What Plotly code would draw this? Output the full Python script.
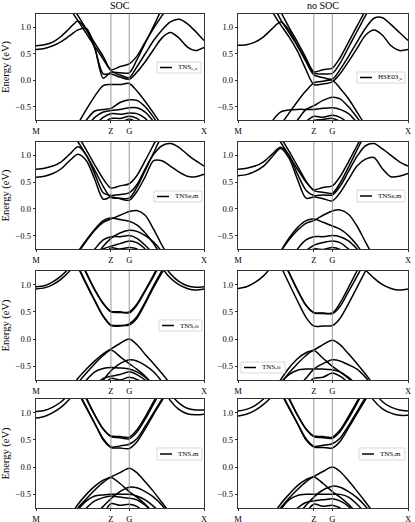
import plotly.graph_objects as go
from plotly.subplots import make_subplots

# ---------------- data ----------------
K = [0.00, 0.05, 0.10, 0.15, 0.20, 0.25, 0.30, 0.35, 0.40, 0.446, 0.50, 0.555,
     0.60, 0.65, 0.70, 0.75, 0.80, 0.85, 0.90, 0.95, 1.00]
KPOINT_POS = [0.0, 0.446, 0.555, 1.0]
KPOINT_LABELS = ["M", "Z", "G", "X"]
E_TICKS = [-0.5, 0.0, 0.5, 1.0]
E_TICK_LABELS = ["\u22120.5", "0.0", "0.5", "1.0"]
E_RANGE = [-0.75, 1.25]
COLUMN_TITLES = ["SOC", "no SOC"]
Y_TITLE = "Energy (eV)"
LEGEND_LABELS = ["TNS<sub>e,o</sub>", "HSE03<sub>,o</sub>", "TNSe,m", "TNSe,m",
                 "TNS,o", "TNS,o", "TNS,m", "TNS,m"]

SOC_TNSEO_BANDS = [
    [0.58, 0.60, 0.65, 0.73, 0.84, 0.95, 0.98, 0.62, 0.04, 0.15, 0.14, 0.14, 0.38, 0.70, 1.02, 1.35, 1.60, 1.80, 1.90, 2.00, 2.00],
    [0.65, 0.67, 0.72, 0.83, 0.98, 1.12, 0.95, 0.60, 0.12, 0.12, 0.06, 0.02, 0.15, 0.35, 0.58, 0.80, 0.90, 0.80, 0.63, 0.56, 0.62],
    [1.90, 1.75, 1.62, 1.50, 1.35, 1.12, 0.88, 0.64, 0.40, 0.18, 0.10, 0.05, 0.25, 0.50, 0.75, 0.95, 1.10, 1.15, 1.07, 0.92, 0.75],
    [2.00, 1.90, 1.75, 1.62, 1.46, 1.22, 0.96, 0.70, 0.45, 0.20, 0.26, 0.31, 0.45, 0.72, 0.98, 1.22, 1.45, 1.70, 1.90, 2.00, 2.00],
    [-1.60, -1.50, -1.40, -1.28, -1.08, -0.82, -0.55, -0.30, -0.10, -0.08, -0.08, -0.06, -0.20, -0.40, -0.62, -0.85, -1.05, -1.25, -1.40, -1.50, -1.60],
    [-1.70, -1.60, -1.50, -1.40, -1.25, -1.00, -0.75, -0.58, -0.55, -0.53, -0.42, -0.37, -0.38, -0.50, -0.70, -0.95, -1.15, -1.35, -1.50, -1.60, -1.70],
    [-1.80, -1.70, -1.60, -1.50, -1.35, -1.10, -0.88, -0.70, -0.60, -0.57, -0.55, -0.52, -0.52, -0.60, -0.78, -1.00, -1.20, -1.40, -1.55, -1.65, -1.70],
    [-1.90, -1.80, -1.70, -1.60, -1.45, -1.25, -1.05, -0.85, -0.70, -0.63, -0.64, -0.62, -0.63, -0.72, -0.90, -1.10, -1.30, -1.45, -1.60, -1.70, -1.80],
    [-2.00, -1.90, -1.80, -1.70, -1.55, -1.40, -1.20, -1.00, -0.82, -0.72, -0.72, -0.68, -0.72, -0.85, -1.00, -1.20, -1.40, -1.55, -1.70, -1.80, -1.90],
    [-2.00, -2.00, -1.90, -1.80, -1.65, -1.50, -1.32, -1.12, -0.95, -0.77, -0.80, -0.73, -0.80, -0.95, -1.10, -1.30, -1.50, -1.65, -1.80, -1.90, -2.00],
]

NOSOC_HSE03O_BANDS = [
    [2.00, 1.90, 1.75, 1.58, 1.30, 1.05, 0.82, 0.55, 0.20, -0.08, -0.07, -0.03, 0.12, 0.35, 0.60, 0.85, 0.95, 0.85, 0.65, 0.56, 0.58],
    [0.66, 0.67, 0.72, 0.82, 0.97, 1.10, 0.95, 0.65, 0.35, 0.10, 0.05, 0.02, 0.20, 0.45, 0.72, 0.98, 1.17, 1.18, 1.05, 0.90, 0.75],
    [2.00, 1.95, 1.85, 1.70, 1.45, 1.15, 0.90, 0.65, 0.38, 0.14, 0.12, 0.13, 0.32, 0.62, 0.92, 1.22, 1.50, 1.70, 1.90, 2.00, 2.00],
    [2.00, 2.00, 1.95, 1.82, 1.60, 1.30, 1.00, 0.72, 0.42, 0.16, 0.20, 0.23, 0.42, 0.72, 1.02, 1.32, 1.60, 1.80, 1.95, 2.00, 2.00],
    [-1.60, -1.50, -1.40, -1.30, -1.10, -0.85, -0.62, -0.40, -0.20, -0.05, -0.02, 0.00, -0.15, -0.35, -0.60, -0.85, -1.05, -1.25, -1.40, -1.50, -1.60],
    [-1.80, -1.70, -1.60, -1.50, -1.35, -1.15, -0.95, -0.75, -0.55, -0.48, -0.38, -0.32, -0.35, -0.50, -0.70, -0.92, -1.10, -1.30, -1.45, -1.55, -1.65],
    [-1.60, -1.45, -1.30, -1.10, -0.78, -0.60, -0.56, -0.55, -0.55, -0.55, -0.53, -0.52, -0.55, -0.63, -0.80, -1.00, -1.20, -1.40, -1.50, -1.60, -1.70],
    [-2.00, -1.90, -1.80, -1.65, -1.50, -1.30, -1.12, -0.95, -0.78, -0.68, -0.70, -0.66, -0.70, -0.82, -1.00, -1.20, -1.40, -1.55, -1.70, -1.80, -1.90],
    [-2.00, -2.00, -1.90, -1.80, -1.65, -1.48, -1.28, -1.08, -0.90, -0.76, -0.74, -0.72, -0.78, -0.92, -1.08, -1.28, -1.48, -1.65, -1.80, -1.90, -2.00],
]

SOC_TNSEM_BANDS = [
    [0.59, 0.61, 0.66, 0.75, 0.90, 1.02, 0.90, 0.55, 0.18, 0.22, 0.19, 0.16, 0.32, 0.60, 0.90, 0.90, 0.80, 0.69, 0.61, 0.60, 0.65],
    [0.74, 0.76, 0.80, 0.88, 1.02, 1.16, 1.00, 0.65, 0.30, 0.25, 0.27, 0.30, 0.45, 0.75, 1.02, 1.18, 1.22, 1.15, 1.02, 0.90, 0.80],
    [2.00, 1.90, 1.75, 1.62, 1.45, 1.25, 1.00, 0.72, 0.42, 0.21, 0.20, 0.20, 0.40, 0.72, 1.05, 1.38, 1.70, 1.90, 2.00, 2.00, 2.00],
    [2.00, 2.00, 1.90, 1.75, 1.58, 1.36, 1.10, 0.82, 0.56, 0.39, 0.43, 0.47, 0.62, 0.90, 1.20, 1.50, 1.80, 2.00, 2.00, 2.00, 2.00],
    [-1.60, -1.50, -1.40, -1.25, -1.05, -0.82, -0.60, -0.40, -0.25, -0.19, -0.12, -0.05, -0.03, -0.12, -0.38, -0.68, -0.95, -1.15, -1.30, -1.40, -1.50],
    [-1.65, -1.55, -1.45, -1.30, -1.08, -0.80, -0.58, -0.38, -0.22, -0.17, -0.20, -0.23, -0.30, -0.45, -0.65, -0.90, -1.10, -1.30, -1.45, -1.55, -1.65],
    [-1.90, -1.80, -1.70, -1.55, -1.40, -1.22, -1.05, -0.90, -0.70, -0.55, -0.45, -0.40, -0.42, -0.50, -0.62, -0.80, -1.00, -1.20, -1.40, -1.55, -1.65],
    [-1.80, -1.70, -1.60, -1.45, -1.30, -1.12, -0.95, -0.75, -0.58, -0.52, -0.52, -0.50, -0.55, -0.68, -0.85, -1.05, -1.25, -1.40, -1.55, -1.65, -1.75],
    [-2.00, -1.90, -1.80, -1.65, -1.50, -1.32, -1.12, -0.92, -0.75, -0.70, -0.65, -0.60, -0.63, -0.75, -0.95, -1.15, -1.35, -1.50, -1.65, -1.75, -1.85],
    [-2.00, -2.00, -1.90, -1.80, -1.65, -1.48, -1.28, -1.08, -0.90, -0.73, -0.75, -0.72, -0.75, -0.90, -1.08, -1.28, -1.48, -1.65, -1.80, -1.90, -2.00],
]

NOSOC_TNSEM_BANDS = [
    [0.62, 0.64, 0.70, 0.80, 0.97, 1.13, 0.95, 0.55, 0.20, 0.22, 0.19, 0.15, 0.30, 0.55, 0.80, 0.93, 0.96, 0.75, 0.60, 0.61, 0.66],
    [0.74, 0.76, 0.80, 0.88, 1.02, 1.15, 1.00, 0.65, 0.35, 0.25, 0.26, 0.26, 0.42, 0.70, 0.98, 1.18, 1.22, 1.12, 1.00, 0.88, 0.80],
    [2.00, 1.95, 1.85, 1.68, 1.48, 1.25, 1.00, 0.74, 0.50, 0.36, 0.40, 0.43, 0.60, 0.88, 1.18, 1.48, 1.80, 2.00, 2.00, 2.00, 2.00],
    [2.00, 2.00, 1.92, 1.78, 1.58, 1.34, 1.08, 0.80, 0.52, 0.34, 0.31, 0.29, 0.48, 0.78, 1.10, 1.42, 1.75, 2.00, 2.00, 2.00, 2.00],
    [-1.60, -1.50, -1.40, -1.25, -1.05, -0.80, -0.58, -0.40, -0.27, -0.22, -0.12, -0.04, -0.02, -0.10, -0.32, -0.62, -0.90, -1.10, -1.30, -1.40, -1.50],
    [-1.65, -1.55, -1.45, -1.30, -1.08, -0.80, -0.55, -0.35, -0.22, -0.19, -0.25, -0.32, -0.38, -0.50, -0.68, -0.90, -1.10, -1.30, -1.45, -1.55, -1.65],
    [-1.80, -1.70, -1.60, -1.45, -1.30, -1.15, -1.00, -0.75, -0.58, -0.52, -0.52, -0.50, -0.52, -0.60, -0.75, -0.95, -1.15, -1.35, -1.50, -1.60, -1.70],
    [-2.00, -1.90, -1.80, -1.65, -1.50, -1.32, -1.12, -0.92, -0.78, -0.68, -0.63, -0.60, -0.63, -0.75, -0.92, -1.12, -1.32, -1.50, -1.65, -1.75, -1.85],
    [-2.00, -2.00, -1.90, -1.80, -1.65, -1.48, -1.28, -1.08, -0.90, -0.75, -0.76, -0.72, -0.76, -0.90, -1.08, -1.28, -1.48, -1.65, -1.80, -1.90, -2.00],
]

SOC_TNSO_BANDS = [
    [0.92, 0.94, 1.00, 1.10, 1.25, 1.45, 1.70, 2.00, 2.30, 2.50, 2.60, 2.60, 2.50, 2.20, 1.75, 1.32, 1.12, 1.00, 0.93, 0.90, 0.92],
    [0.96, 0.98, 1.05, 1.16, 1.32, 1.55, 1.80, 2.10, 2.40, 2.60, 2.70, 2.70, 2.60, 2.30, 1.85, 1.42, 1.20, 1.06, 0.98, 0.95, 0.96],
    [2.60, 2.40, 2.20, 2.00, 1.70, 1.32, 1.00, 0.70, 0.42, 0.26, 0.25, 0.26, 0.38, 0.65, 0.95, 1.22, 1.50, 1.80, 2.00, 2.20, 2.40],
    [2.60, 2.40, 2.20, 2.00, 1.72, 1.34, 1.02, 0.71, 0.42, 0.25, 0.24, 0.28, 0.41, 0.68, 0.98, 1.26, 1.54, 1.84, 2.00, 2.20, 2.40],
    [2.80, 2.60, 2.40, 2.20, 1.95, 1.55, 1.20, 0.90, 0.65, 0.51, 0.50, 0.48, 0.62, 0.88, 1.15, 1.45, 1.75, 2.00, 2.20, 2.40, 2.60],
    [2.80, 2.60, 2.40, 2.20, 1.97, 1.57, 1.22, 0.91, 0.66, 0.50, 0.49, 0.50, 0.64, 0.90, 1.18, 1.48, 1.78, 2.00, 2.20, 2.40, 2.60],
    [-1.60, -1.45, -1.30, -1.12, -0.90, -0.72, -0.55, -0.40, -0.27, -0.18, -0.08, 0.00, -0.10, -0.28, -0.45, -0.63, -0.82, -1.00, -1.20, -1.35, -1.50],
    [-1.70, -1.55, -1.40, -1.20, -1.00, -0.80, -0.62, -0.45, -0.30, -0.20, -0.32, -0.45, -0.55, -0.68, -0.85, -1.05, -1.25, -1.40, -1.55, -1.65, -1.75],
    [-1.90, -1.80, -1.70, -1.55, -1.38, -1.20, -1.02, -0.88, -0.75, -0.58, -0.45, -0.38, -0.40, -0.48, -0.60, -0.78, -0.98, -1.18, -1.35, -1.50, -1.60],
    [-1.70, -1.60, -1.50, -1.35, -1.15, -0.95, -0.75, -0.60, -0.54, -0.52, -0.53, -0.55, -0.60, -0.70, -0.85, -1.05, -1.25, -1.40, -1.55, -1.65, -1.75],
    [-2.00, -1.90, -1.80, -1.60, -1.40, -1.20, -1.02, -0.85, -0.72, -0.68, -0.65, -0.60, -0.65, -0.75, -0.90, -1.10, -1.30, -1.45, -1.60, -1.70, -1.80],
    [-2.00, -2.00, -1.90, -1.80, -1.62, -1.42, -1.22, -1.02, -0.85, -0.72, -0.75, -0.70, -0.74, -0.82, -0.98, -1.18, -1.38, -1.55, -1.70, -1.80, -1.90],
]

NOSOC_TNSO_BANDS = [
    [0.93, 0.96, 1.04, 1.16, 1.34, 1.55, 1.80, 2.10, 2.30, 2.50, 2.60, 2.60, 2.50, 2.20, 1.80, 1.28, 1.12, 1.00, 0.93, 0.90, 0.92],
    [2.60, 2.40, 2.20, 2.00, 1.72, 1.35, 1.02, 0.70, 0.40, 0.24, 0.24, 0.25, 0.38, 0.65, 0.95, 1.25, 1.55, 1.85, 2.00, 2.20, 2.40],
    [2.80, 2.60, 2.40, 2.20, 1.95, 1.55, 1.22, 0.90, 0.62, 0.48, 0.47, 0.47, 0.60, 0.87, 1.15, 1.45, 1.75, 2.00, 2.20, 2.40, 2.60],
    [2.80, 2.60, 2.40, 2.20, 1.95, 1.55, 1.22, 0.90, 0.62, 0.49, 0.48, 0.48, 0.66, 0.95, 1.25, 1.55, 1.85, 2.10, 2.30, 2.50, 2.70],
    [-1.60, -1.50, -1.35, -1.20, -1.00, -0.75, -0.53, -0.36, -0.25, -0.20, -0.10, -0.02, -0.10, -0.27, -0.45, -0.64, -0.85, -1.05, -1.25, -1.40, -1.50],
    [-1.70, -1.55, -1.40, -1.22, -1.02, -0.82, -0.62, -0.45, -0.30, -0.21, -0.35, -0.50, -0.60, -0.72, -0.88, -1.05, -1.25, -1.40, -1.55, -1.65, -1.75],
    [-1.90, -1.80, -1.70, -1.55, -1.38, -1.20, -1.02, -0.88, -0.72, -0.55, -0.45, -0.38, -0.40, -0.47, -0.55, -0.70, -0.90, -1.10, -1.30, -1.45, -1.60],
    [-1.60, -1.45, -1.30, -1.15, -0.98, -0.80, -0.65, -0.57, -0.55, -0.55, -0.55, -0.56, -0.60, -0.70, -0.85, -1.05, -1.25, -1.40, -1.55, -1.65, -1.75],
    [-2.00, -1.90, -1.80, -1.65, -1.45, -1.25, -1.08, -0.95, -0.85, -0.72, -0.70, -0.62, -0.68, -0.80, -0.95, -1.15, -1.35, -1.50, -1.65, -1.75, -1.85],
]

SOC_TNSM_BANDS = [
    [0.90, 0.93, 1.00, 1.10, 1.25, 1.45, 1.70, 2.00, 2.30, 2.50, 2.60, 2.60, 2.50, 2.20, 1.85, 1.50, 1.22, 1.06, 0.98, 0.96, 0.97],
    [1.02, 1.04, 1.10, 1.20, 1.35, 1.55, 1.85, 2.10, 2.40, 2.60, 2.70, 2.70, 2.60, 2.35, 2.00, 1.65, 1.35, 1.18, 1.08, 1.05, 1.05],
    [2.60, 2.40, 2.20, 2.00, 1.72, 1.38, 1.08, 0.80, 0.52, 0.37, 0.39, 0.42, 0.52, 0.75, 1.00, 1.25, 1.50, 1.80, 2.00, 2.20, 2.40],
    [2.60, 2.40, 2.20, 2.00, 1.74, 1.40, 1.10, 0.80, 0.50, 0.36, 0.35, 0.34, 0.46, 0.70, 0.97, 1.22, 1.48, 1.78, 2.00, 2.20, 2.40],
    [2.80, 2.60, 2.40, 2.20, 1.95, 1.60, 1.25, 0.95, 0.70, 0.57, 0.56, 0.55, 0.68, 0.92, 1.20, 1.48, 1.78, 2.00, 2.20, 2.40, 2.60],
    [2.80, 2.60, 2.40, 2.20, 1.97, 1.62, 1.27, 0.96, 0.70, 0.56, 0.54, 0.52, 0.64, 0.88, 1.16, 1.44, 1.74, 2.00, 2.20, 2.40, 2.60],
    [-1.60, -1.50, -1.35, -1.15, -0.92, -0.68, -0.50, -0.35, -0.24, -0.18, -0.10, -0.02, -0.10, -0.27, -0.45, -0.65, -0.85, -1.05, -1.25, -1.40, -1.50],
    [-1.65, -1.52, -1.38, -1.20, -0.98, -0.75, -0.58, -0.42, -0.28, -0.19, -0.30, -0.45, -0.55, -0.68, -0.85, -1.05, -1.25, -1.40, -1.55, -1.65, -1.75],
    [-1.90, -1.80, -1.70, -1.55, -1.38, -1.20, -1.02, -0.88, -0.72, -0.58, -0.45, -0.37, -0.38, -0.45, -0.55, -0.70, -0.90, -1.10, -1.30, -1.45, -1.60],
    [-1.70, -1.55, -1.40, -1.20, -0.98, -0.78, -0.62, -0.53, -0.51, -0.50, -0.50, -0.50, -0.53, -0.60, -0.72, -0.88, -1.08, -1.28, -1.45, -1.60, -1.70],
    [-1.85, -1.72, -1.58, -1.40, -1.15, -0.92, -0.75, -0.62, -0.56, -0.53, -0.55, -0.57, -0.60, -0.70, -0.85, -1.05, -1.25, -1.42, -1.58, -1.70, -1.80],
    [-2.00, -1.90, -1.80, -1.65, -1.48, -1.28, -1.10, -0.95, -0.85, -0.67, -0.70, -0.68, -0.72, -0.85, -1.00, -1.20, -1.40, -1.58, -1.72, -1.85, -1.95],
]

NOSOC_TNSM_BANDS = [
    [0.94, 0.97, 1.04, 1.15, 1.30, 1.50, 1.75, 2.05, 2.30, 2.50, 2.60, 2.60, 2.50, 2.20, 1.85, 1.50, 1.22, 1.07, 0.99, 0.95, 0.95],
    [1.03, 1.06, 1.13, 1.25, 1.42, 1.65, 1.90, 2.20, 2.45, 2.65, 2.75, 2.75, 2.65, 2.40, 2.05, 1.70, 1.40, 1.20, 1.10, 1.05, 1.03],
    [2.60, 2.40, 2.20, 2.00, 1.72, 1.38, 1.08, 0.80, 0.52, 0.38, 0.40, 0.43, 0.53, 0.76, 1.02, 1.28, 1.55, 1.85, 2.00, 2.20, 2.40],
    [2.60, 2.40, 2.20, 2.00, 1.74, 1.40, 1.10, 0.80, 0.50, 0.37, 0.36, 0.35, 0.47, 0.72, 0.98, 1.24, 1.50, 1.80, 2.00, 2.20, 2.40],
    [2.80, 2.60, 2.40, 2.20, 1.95, 1.60, 1.25, 0.95, 0.70, 0.57, 0.56, 0.55, 0.68, 0.93, 1.20, 1.50, 1.80, 2.00, 2.20, 2.40, 2.60],
    [2.80, 2.60, 2.40, 2.20, 1.97, 1.62, 1.27, 0.96, 0.70, 0.56, 0.54, 0.53, 0.65, 0.89, 1.17, 1.46, 1.76, 2.00, 2.20, 2.40, 2.60],
    [-1.60, -1.48, -1.32, -1.12, -0.90, -0.68, -0.50, -0.34, -0.23, -0.17, -0.08, 0.00, -0.08, -0.25, -0.44, -0.64, -0.85, -1.05, -1.25, -1.40, -1.50],
    [-1.65, -1.52, -1.38, -1.20, -0.98, -0.75, -0.57, -0.41, -0.27, -0.18, -0.30, -0.45, -0.55, -0.68, -0.85, -1.05, -1.25, -1.40, -1.55, -1.65, -1.75],
    [-1.90, -1.80, -1.70, -1.55, -1.38, -1.20, -1.02, -0.88, -0.70, -0.55, -0.42, -0.35, -0.37, -0.45, -0.56, -0.72, -0.92, -1.12, -1.30, -1.45, -1.60],
    [-1.70, -1.55, -1.40, -1.20, -0.98, -0.78, -0.60, -0.52, -0.50, -0.50, -0.50, -0.50, -0.50, -0.55, -0.68, -0.85, -1.05, -1.25, -1.42, -1.55, -1.65],
    [-1.90, -1.80, -1.65, -1.48, -1.28, -1.08, -0.90, -0.75, -0.65, -0.62, -0.60, -0.58, -0.62, -0.72, -0.88, -1.08, -1.28, -1.45, -1.60, -1.72, -1.82],
    [-2.00, -1.90, -1.80, -1.65, -1.48, -1.28, -1.10, -0.95, -0.82, -0.68, -0.72, -0.70, -0.75, -0.88, -1.05, -1.25, -1.45, -1.60, -1.75, -1.85, -1.95],
]

PANEL_BANDS = [SOC_TNSEO_BANDS, NOSOC_HSE03O_BANDS, SOC_TNSEM_BANDS, NOSOC_TNSEM_BANDS,
               SOC_TNSO_BANDS, NOSOC_TNSO_BANDS, SOC_TNSM_BANDS, NOSOC_TNSM_BANDS]

# ---------------- layout helpers ----------------
W, H = 415, 522
FONT = "Liberation Serif, Times New Roman, serif"
COL_PX = [(36, 204), (238, 408)]
ROW_PX = [(14, 120), (142, 249), (271, 380), (399, 508)]
# legend boxes in pixels: (left, top, right, bottom)
LEGEND_BOX = [
    (157, 62, 201, 73), (357, 72, 405, 83),
    (154, 191, 202, 202), (357, 190, 405, 202),
    (159, 320, 202, 331), (241, 362, 285, 373),
    (157, 448, 202, 460), (359, 448, 405, 460),
]

def px(x):
    return x / W

def py(y):
    return 1 - y / H

fig = make_subplots(rows=4, cols=2)

for p, bands in enumerate(PANEL_BANDS):
    r, c = p // 2 + 1, p % 2 + 1
    for i, e in enumerate(bands):
        fig.add_trace(go.Scatter(
            x=K, y=e, mode="lines",
            line=dict(color="black", width=1.5, shape="spline", smoothing=0.8),
            name=LEGEND_LABELS[p], showlegend=False, hoverinfo="skip"), row=r, col=c)
    for kx in KPOINT_POS[1:3]:
        fig.add_vline(x=kx, line=dict(color="#8c8c8c", width=0.9), row=r, col=c)

    ax_suffix = "" if p == 0 else str(p + 1)
    x0, x1 = COL_PX[c - 1]
    y0, y1 = ROW_PX[r - 1]
    fig.layout["xaxis" + ax_suffix].update(
        domain=[px(x0), px(x1)], range=[0, 1], tickvals=KPOINT_POS, ticktext=KPOINT_LABELS,
        showline=True, mirror=True, linecolor="black", linewidth=0.8,
        ticks="outside", ticklen=2.5, tickwidth=0.8, tickcolor="black",
        showgrid=False, zeroline=False, automargin=False,
        tickfont=dict(family=FONT, size=8.5, color="black"))
    yax = dict(
        domain=[py(y1), py(y0)], range=E_RANGE, tickvals=E_TICKS, ticktext=E_TICK_LABELS,
        showline=True, mirror=True, linecolor="black", linewidth=0.8,
        ticks="outside", ticklen=2.5, tickwidth=0.8, tickcolor="black",
        showgrid=False, zeroline=False, automargin=False,
        tickfont=dict(family=FONT, size=8.5, color="black"))
    if c == 1:
        yax["title"] = dict(text=Y_TITLE, font=dict(family=FONT, size=10.5, color="black"), standoff=3)
    fig.layout["yaxis" + ax_suffix].update(**yax)

    # legend box (line sample + label)
    l, t, rr, b = LEGEND_BOX[p]
    ym = (t + b) / 2
    fig.add_shape(type="rect", xref="paper", yref="paper", x0=px(l), x1=px(rr), y0=py(b), y1=py(t),
                  line=dict(color="#cfcfcf", width=0.8), fillcolor="white", layer="above")
    fig.add_shape(type="line", xref="paper", yref="paper", x0=px(l + 3), x1=px(l + 15), y0=py(ym), y1=py(ym),
                  line=dict(color="black", width=1.5), layer="above")
    fig.add_annotation(text=LEGEND_LABELS[p], x=px(l + 19), y=py(ym), xref="paper", yref="paper",
                       showarrow=False, xanchor="left", yanchor="middle",
                       font=dict(family=FONT, size=7, color="black"))

for j, t in enumerate(COLUMN_TITLES):
    x0, x1 = COL_PX[j]
    fig.add_annotation(text=t, x=px((x0 + x1) / 2), y=py(6), xref="paper", yref="paper",
                       showarrow=False, xanchor="center", yanchor="middle",
                       font=dict(family=FONT, size=10, color="black"))

fig.update_layout(width=W, height=H, margin=dict(l=0, r=0, t=0, b=0),
                  plot_bgcolor="white", paper_bgcolor="white", showlegend=False,
                  font=dict(family=FONT, color="black"))

fig.write_html("out.html", config=dict(displayModeBar=False, staticPlot=True),
               post_script="document.body.style.margin='0';document.body.style.overflow='hidden';")
